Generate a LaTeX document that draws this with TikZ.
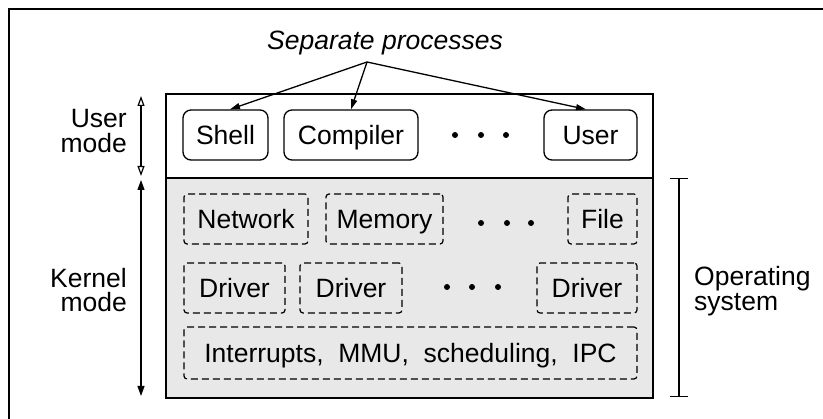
\documentclass[tikz,border=0pt]{standalone}
\usepackage{fontspec}
\setmainfont{Liberation Sans}
\usetikzlibrary{arrows.meta}
\definecolor{kernelgray}{RGB}{232,232,232}
\newcommand{\osfont}{\fontsize{26.5}{24.5}\selectfont}

\begin{document}
\begin{tikzpicture}[x=1pt,y=-1pt,
  proc/.style={draw, line width=1.3pt, rounded corners=8pt, minimum height=50pt, inner sep=0pt, text height=19pt, text depth=0pt, font=\osfont},
  part/.style={draw, line width=1.2pt, dash pattern=on 7pt off 4pt, rounded corners=3pt, minimum height=50pt, inner sep=0pt, text height=19pt, text depth=0pt, font=\osfont},
  modetext/.style={font=\osfont, inner sep=0pt, align=right, anchor=east},
  ptr/.style={line width=1.3pt, -{Triangle[length=10pt,width=6pt]}}]
\useasboundingbox (0,0) rectangle (823,419);
\draw[line width=1.5pt] (9,419) -- (9,9) -- (823,9);

% User and kernel areas
\draw[line width=1.3pt] (166,94) rectangle (653,178);
\draw[line width=1.3pt, fill=kernelgray] (166,178) rectangle (653,398);

% User processes
\node[proc, minimum width=85pt] (shell) at (225.5,135) {Shell};
\node[proc, minimum width=134pt] (compiler) at (351,135) {Compiler};
\node[proc, minimum width=93pt] (user) at (590.5,135) {User};
\foreach \x in {455,481,506} \fill (\x,135) circle (3pt);

\node[font=\osfont\itshape] (sep) at (385,43) {Separate processes};
\coordinate (apex) at (367,62);
\draw[ptr] (apex) -- (shell.80);
\draw[ptr] (apex) -- (compiler.north);
\draw[ptr] (apex) -- (user.100);

% Kernel parts
\node[part, minimum width=124pt] (network) at (246,219) {Network};
\node[part, minimum width=117pt] (memory) at (384.5,219) {Memory};
\node[part, minimum width=69pt] (file) at (602.5,219) {File};
\foreach \x in {481,507,531} \fill (\x,223) circle (3pt);

\node[part, minimum width=101pt] (drivera) at (234.5,288) {Driver};
\node[part, minimum width=102pt] (driverb) at (351,288) {Driver};
\node[part, minimum width=100pt] (driverc) at (587,288) {Driver};
\foreach \x in {447,472,498} \fill (\x,287) circle (3pt);

\node[part, minimum width=453pt, minimum height=52pt] (core) at (410.5,353) {Interrupts,\ \ MMU,\ \ scheduling,\ \ IPC};

% Modes on the left
\coordinate (um-top) at (141,96);
\coordinate (um-bot) at (141,176);
\coordinate (km-top) at (141,180);
\coordinate (km-bot) at (141,396);
\draw[line width=1.2pt, {Triangle[open,length=10pt,width=7pt]}-{Triangle[open,length=10pt,width=7pt]}] (um-top) -- (um-bot);
\draw[line width=1.2pt, {Triangle[length=10pt,width=7pt]}-{Triangle[length=10pt,width=7pt]}] (km-top) -- (km-bot);
\node[modetext] (usermode) at (127,131) {User\\mode};
\node[modetext] (kernelmode) at (127,290) {Kernel\\mode};

% Operating system bracket
\coordinate (os-top) at (679,178);
\coordinate (os-bot) at (679,397);
\draw[line width=1.3pt, {Bar[width=18pt]}-{Bar[width=18pt]}] (os-top) -- (os-bot);
\node[font=\osfont, inner sep=0pt, align=left, anchor=west] (os) at (694,291) {Operating\\system};

\end{tikzpicture}
\end{document}
